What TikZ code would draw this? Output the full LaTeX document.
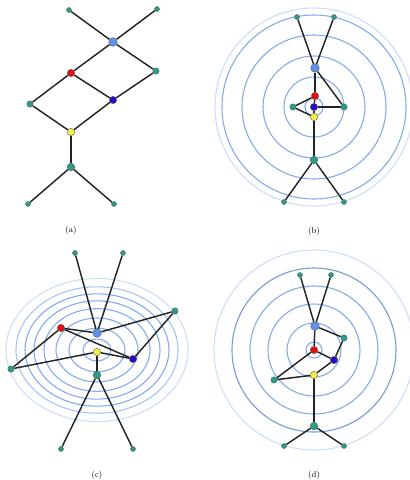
\documentclass[tikz,border=0pt]{standalone}
\definecolor{tealc}{RGB}{40,158,135}
\definecolor{lbluec}{RGB}{95,145,230}
\definecolor{redc}{RGB}{232,12,12}
\definecolor{bluec}{RGB}{40,10,200}
\definecolor{yellowc}{RGB}{242,240,70}
\definecolor{ringc}{RGB}{130,172,236}
\definecolor{ringf}{RGB}{205,222,246}
\definecolor{edgec}{RGB}{35,35,35}
\pgfdeclarelayer{rings}
\pgfdeclarelayer{edges}
\pgfsetlayers{rings,edges,main}
\tikzset{
  vtx/.style={circle, draw=black!65, line width=0.4pt, inner sep=0pt},
  leaf/.style={vtx, fill=tealc, minimum size=5pt},
  midt/.style={vtx, fill=tealc, minimum size=6.4pt},
  hubt/.style={vtx, fill=tealc, minimum size=7.6pt},
  lb/.style={vtx, fill=lbluec, minimum size=8.6pt},
  rd/.style={vtx, fill=redc, minimum size=7.4pt},
  bl/.style={vtx, fill=bluec, minimum size=7.4pt},
  yl/.style={vtx, fill=yellowc, minimum size=7.4pt},
  edge/.style={draw=edgec, line width=1.45pt},
  ring/.style={draw=ringc, line width=1.1pt},
  ringfaint/.style={draw=ringf, line width=1.1pt},
  captxt/.style={font=\fontsize{8.5}{10}\selectfont, inner sep=0pt}
}
\begin{document}
\begin{tikzpicture}[x=1pt,y=-1pt]
\useasboundingbox (0,0) rectangle (410,480);
% ---------- (a)
\node[leaf] (a1) at (69,10) {};
\node[leaf] (a2) at (157,9) {};
\node[lb]   (aL) at (113,42) {};
\node[rd]   (aR) at (71,73) {};
\node[midt] (aT) at (156,71) {};
\node[midt] (aS) at (30,104) {};
\node[bl]   (aB) at (113,100) {};
\node[yl]   (aY) at (71,132) {};
\node[hubt] (aM) at (71,167) {};
\node[leaf] (a3) at (28,204) {};
\node[leaf] (a4) at (114,204) {};
\node[captxt]  (la) at (71,230) {(a)};
% ---------- (b)
\node[leaf] (b1) at (297,17) {};
\node[leaf] (b2) at (334,17) {};
\node[lb]   (bL) at (315,68) {};
\node[rd]   (bR) at (315,96) {};
\node[midt] (bS) at (293,107) {};
\node[bl]   (bB) at (314,107) {};
\node[midt] (bT) at (344,107) {};
\node[yl]   (bY) at (314,117) {};
\node[hubt] (bM) at (314,160) {};
\node[leaf] (b3) at (284,202) {};
\node[leaf] (b4) at (344,202) {};
\node[captxt]  (lbl) at (314,231) {(b)};
% ---------- (c)
\node[leaf] (c1) at (75,253) {};
\node[leaf] (c2) at (123,253) {};
\node[lb]   (cL) at (97,333) {};
\node[rd]   (cR) at (61,328) {};
\node[midt] (cT) at (175,311) {};
\node[midt] (cS) at (11,369) {};
\node[bl]   (cB) at (133,359) {};
\node[yl]   (cY) at (97,352) {};
\node[hubt] (cM) at (97,375) {};
\node[leaf] (c3) at (61,449) {};
\node[leaf] (c4) at (133,449) {};
\node[captxt]  (lc) at (97,475) {(c)};
% ---------- (d)
\node[leaf] (d1) at (300,275) {};
\node[leaf] (d2) at (331,275) {};
\node[lb]   (dL) at (315,326) {};
\node[midt] (dT) at (344,338) {};
\node[rd]   (dR) at (314,350) {};
\node[bl]   (dB) at (334,360) {};
\node[midt] (dS) at (274,380) {};
\node[yl]   (dY) at (314,375) {};
\node[hubt] (dM) at (314,426) {};
\node[leaf] (d3) at (284,446) {};
\node[leaf] (d4) at (344,446) {};
\node[captxt]  (ld) at (314,475) {(d)};
% ---------- edges
\begin{pgfonlayer}{edges}
\foreach \p in {a,b,c,d}{
  \draw[edge] (\p1) -- (\p L);
  \draw[edge] (\p2) -- (\p L);
  \draw[edge] (\p L) -- (\p R);
  \draw[edge] (\p L) -- (\p T);
  \draw[edge] (\p R) -- (\p S);
  \draw[edge] (\p R) -- (\p B);
  \draw[edge] (\p T) -- (\p B);
  \draw[edge] (\p S) -- (\p Y);
  \draw[edge] (\p B) -- (\p Y);
  \draw[edge] (\p Y) -- (\p M);
  \draw[edge] (\p M) -- (\p 3);
  \draw[edge] (\p M) -- (\p 4);
}
\end{pgfonlayer}
% ---------- rings
\begin{pgfonlayer}{rings}
\coordinate (bc) at (314,107);
\foreach \r in {9,30,51,72,92}{ \draw[ring] (bc) circle[radius=\r]; }
\draw[ringfaint] (bc) circle[radius=99];
\coordinate (cc) at (97,350);
\foreach \r in {14,28,41,53,63,72}{ \draw[ring] (cc) ellipse[x radius=\r, y radius={0.78*\r}]; }
\draw[ring, draw=ringc!70] (cc) ellipse[x radius=81, y radius=63.2];
\draw[ringfaint] (cc) ellipse[x radius=91, y radius=71.5];
\coordinate (dc) at (314,350);
\foreach \r in {8,27,46,64}{ \draw[ring] (dc) circle[radius=\r]; }
\draw[ring, draw=ringc!90!black] (dc) circle[radius=82];
\draw[ringfaint] (dc) circle[radius=100];
\end{pgfonlayer}
\end{tikzpicture}
\end{document}
